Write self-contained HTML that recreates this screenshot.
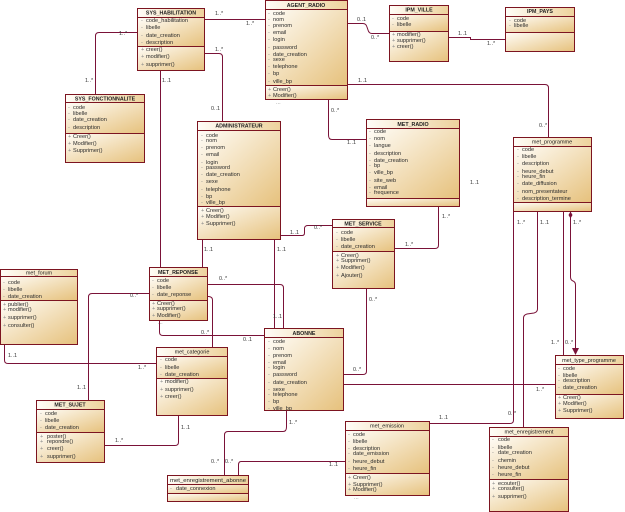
<!DOCTYPE html>
<html><head><meta charset="utf-8"><style>
html,body{margin:0;padding:0;background:#fff;width:625px;height:512px;overflow:hidden}
svg{display:block}
text{font-family:"Liberation Sans",sans-serif;font-size:5.6px;fill:#2b2b2b}
.h{font-size:5.5px;text-anchor:middle;fill:#1e1e1e}
.hb{font-size:5.3px;text-anchor:middle;fill:#1e1e1e;font-weight:bold}
.d{fill:#8a8a8a}
.l{font-size:5.4px;fill:#333}
.c{fill:none;stroke:#7a1238;stroke-width:1}
.bx{fill:none;stroke:#7c1420;stroke-width:1}
</style></head><body>
<svg width="625" height="512" viewBox="0 0 625 512" xmlns="http://www.w3.org/2000/svg">
<defs>
<linearGradient id="g" x1="0" y1="0" x2="1" y2="1"><stop offset="0" stop-color="#fffdf8"/><stop offset="1" stop-color="#e6c17c"/></linearGradient>
<linearGradient id="gt" x1="0" y1="0" x2="1" y2="0"><stop offset="0" stop-color="#fffdf8"/><stop offset="1" stop-color="#edd29c"/></linearGradient>
</defs>

<!-- connectors -->
<path class="c" d="M204,19.5H265"/>
<path class="c" d="M204,53.5H219Q222.5,53.5 222.5,57V121"/>
<path class="c" d="M137,32.5H99Q95.5,32.5 95.5,36V94"/>
<path class="c" d="M160.5,70V267"/>
<path class="c" d="M347,23.5H363Q366,23.5 367,27L368,30Q369,33.5 372,33.5H389"/>
<path class="c" d="M448,37.5H470.5V39.5H505"/>
<path class="c" d="M347,84.5H545Q548.5,84.5 548.5,88V137"/>
<path class="c" d="M328.5,99V135Q328.5,139.5 332,139.5H366"/>
<path class="c" d="M280,235.5H302Q304.5,235.5 304.5,233V228Q305,225.5 308,225.5H332"/>
<path class="c" d="M394,248.5H435Q438.5,248.5 438.5,245V206"/>
<path class="c" d="M202.5,239V267"/>
<path class="c" d="M274.5,239V328"/>
<path class="c" d="M207,284.5H280Q283.5,284.5 283.5,288V328"/>
<path class="c" d="M207,296.5H209Q212.5,297 212.5,300V347"/>
<path class="c" d="M159.5,321V332Q159.5,335.5 163,335.5H264"/>
<path class="c" d="M4.5,344V360Q4.5,363.5 8,363.5H156"/>
<path class="c" d="M149,293.5H92Q88.5,293.5 88.5,297V400"/>
<path class="c" d="M104,445.5H175Q178.5,445.5 178.5,442V415"/>
<path class="c" d="M343,374.5H363Q366.5,374.5 366.5,371V288"/>
<path class="c" d="M343,384.5H555"/>
<path class="c" d="M286.5,410V427Q286.5,431.5 283,431.5H228Q224.5,431.5 224.5,435V475"/>
<path class="c" d="M345,461.5H241Q238.5,461.5 238.5,465V475"/>
<path class="c" d="M429,423.5H510Q513.5,423.5 513.5,420V211"/>
<path class="c" d="M537.5,211V309Q537.5,312 534,313L527,314Q523.5,315 523.5,318V427"/>
<path class="c" d="M563.5,211V355"/>
<path class="c" d="M570.5,211V277Q570.5,280 573,281Q575.5,282 575.5,285V350"/>
<path d="M570.5,211.5L572.5,215L570.5,218.5L568.5,215Z" fill="#7a1238"/>
<path d="M572,348H579L575.5,355Z" fill="#7a1238"/>

<!-- connector labels -->
<text class="l" x="215" y="15">1..*</text>
<text class="l" x="246" y="25">1..*</text>
<text class="l" x="215" y="51">1..*</text>
<text class="l" x="211" y="110">0..1</text>
<text class="l" x="119" y="35">1..*</text>
<text class="l" x="85" y="82">1..*</text>
<text class="l" x="162" y="82">1..1</text>
<text class="l" x="357" y="21">0..1</text>
<text class="l" x="371" y="39">0..*</text>
<text class="l" x="458" y="35">1..1</text>
<text class="l" x="487" y="45">1..*</text>
<text class="l" x="358" y="82">1..1</text>
<text class="l" x="539" y="127">0..*</text>
<text class="l" x="331" y="112">0..*</text>
<text class="l" x="347" y="144">1..1</text>
<text class="l" x="290" y="234">1..1</text>
<text class="l" x="314" y="229">0..*</text>
<text class="l" x="405" y="246">1..*</text>
<text class="l" x="442" y="218">1..*</text>
<text class="l" x="470" y="184">1..1</text>
<text class="l" x="204" y="251">1..1</text>
<text class="l" x="277" y="251">1..1</text>
<text class="l" x="273" y="318">1..1</text>
<text class="l" x="219" y="280">0..*</text>
<text class="l" x="201" y="334">0..*</text>
<text class="l" x="243" y="341">0..1</text>
<text class="l" x="8" y="357">1..1</text>
<text class="l" x="138" y="369">1..*</text>
<text class="l" x="130" y="297">0..*</text>
<text class="l" x="77" y="389">1..1</text>
<text class="l" x="115" y="442">1..*</text>
<text class="l" x="181" y="429">1..1</text>
<text class="l" x="369" y="301">0..*</text>
<text class="l" x="353" y="371">0..*</text>
<text class="l" x="536" y="391">1..*</text>
<text class="l" x="289" y="424">1..*</text>
<text class="l" x="211" y="463">0..*</text>
<text class="l" x="225" y="463">0..*</text>
<text class="l" x="329" y="466">1..1</text>
<text class="l" x="439" y="419">1..1</text>
<text class="l" x="508" y="415">0..*</text>
<text class="l" x="517" y="224">1..*</text>
<text class="l" x="540" y="224">1..1</text>
<text class="l" x="573" y="224">1..*</text>
<text class="l" x="551" y="344">1..*</text>
<text class="l" x="565" y="344">0..*</text>

<!-- SYS_HABILITATION -->
<rect x="137.5" y="8.5" width="67" height="9" fill="url(#gt)"/>
<rect x="137.5" y="17.5" width="67" height="29" fill="url(#g)"/>
<rect x="137.5" y="46.5" width="67" height="24" fill="url(#g)"/>
<rect class="bx" x="137.5" y="8.5" width="67" height="62"/>
<path class="bx" d="M137.5,17.5H204.5M137.5,46.5H204.5"/>
<text class="hb" x="171" y="14.5">SYS_HABILITATION</text>
<text class="d" x="141" y="22">-</text><text x="146" y="22">code_habilitation</text>
<text class="d" x="141" y="29">-</text><text x="146" y="29">libelle</text>
<text class="d" x="141" y="37">-</text><text x="146" y="37">date_creation</text>
<text class="d" x="141" y="44">-</text><text x="146" y="44">description</text>
<text class="d" x="141" y="51">+</text><text x="146" y="51">creer()</text>
<text class="d" x="141" y="58">+</text><text x="146" y="58">modifier()</text>
<text class="d" x="141" y="66">+</text><text x="146" y="66">supprimer()</text>

<!-- SYS_FONCTIONNALITE -->
<rect x="65.5" y="94.5" width="79" height="8" fill="url(#gt)"/>
<rect x="65.5" y="102.5" width="79" height="31" fill="url(#g)"/>
<rect x="65.5" y="133.5" width="79" height="29" fill="url(#g)"/>
<rect class="bx" x="65.5" y="94.5" width="79" height="68"/>
<path class="bx" d="M65.5,102.5H144.5M65.5,133.5H144.5"/>
<text class="hb" x="105" y="100.5">SYS_FONCTIONNALITE</text>
<text class="d" x="68" y="109">-</text><text x="73" y="109">code</text>
<text class="d" x="68" y="115">-</text><text x="73" y="115">libelle</text>
<text class="d" x="68" y="121">-</text><text x="73" y="121">date_creation</text>
<text class="d" x="68" y="129">-</text><text x="73" y="129">description</text>
<text class="d" x="68" y="138">+</text><text x="73" y="138">Creer()</text>
<text class="d" x="68" y="145">+</text><text x="73" y="145">Modifier()</text>
<text class="d" x="68" y="152">+</text><text x="73" y="152">Supprimer()</text>

<!-- AGENT_RADIO -->
<rect x="265.5" y="0.5" width="82" height="9" fill="url(#gt)"/>
<rect x="265.5" y="9.5" width="82" height="76" fill="url(#g)"/>
<rect x="265.5" y="85.5" width="82" height="14" fill="url(#g)"/>
<rect class="bx" x="265.5" y="0.5" width="82" height="99"/>
<path class="bx" d="M265.5,9.5H347.5M265.5,85.5H347.5"/>
<text class="hb" x="306" y="7">AGENT_RADIO</text>
<text class="d" x="268" y="15">-</text><text x="273" y="15">code</text>
<text class="d" x="268" y="21">-</text><text x="273" y="21">nom</text>
<text class="d" x="268" y="27">-</text><text x="273" y="27">prenom</text>
<text class="d" x="268" y="34">-</text><text x="273" y="34">email</text>
<text class="d" x="268" y="41">-</text><text x="273" y="41">login</text>
<text class="d" x="268" y="49">-</text><text x="273" y="49">password</text>
<text class="d" x="268" y="56">-</text><text x="273" y="56">date_creation</text>
<text class="d" x="268" y="61">-</text><text x="273" y="61">sexe</text>
<text class="d" x="268" y="68">-</text><text x="273" y="68">telephone</text>
<text class="d" x="268" y="75">-</text><text x="273" y="75">bp</text>
<text class="d" x="268" y="83">-</text><text x="273" y="83">ville_bp</text>
<text class="d" x="268" y="91">+</text><text x="273" y="91">Creer()</text>
<text class="d" x="268" y="97">+</text><text x="273" y="97">Modifier()</text>
<text class="d" x="276" y="104">...</text>

<!-- IPM_VILLE -->
<rect x="389.5" y="5.5" width="59" height="9" fill="url(#gt)"/>
<rect x="389.5" y="14.5" width="59" height="17" fill="url(#g)"/>
<rect x="389.5" y="31.5" width="59" height="30" fill="url(#g)"/>
<rect class="bx" x="389.5" y="5.5" width="59" height="56"/>
<path class="bx" d="M389.5,14.5H448.5M389.5,31.5H448.5"/>
<text class="hb" x="419" y="11.5">IPM_VILLE</text>
<text class="d" x="392" y="20">-</text><text x="397" y="20">code</text>
<text class="d" x="392" y="26">-</text><text x="397" y="26">libelle</text>
<text class="d" x="392" y="36">+</text><text x="397" y="36">modifier()</text>
<text class="d" x="392" y="42">+</text><text x="397" y="42">supprimer()</text>
<text class="d" x="392" y="48">+</text><text x="397" y="48">creer()</text>

<!-- IPM_PAYS -->
<rect x="505.5" y="7.5" width="69" height="9" fill="url(#gt)"/>
<rect x="505.5" y="16.5" width="69" height="16" fill="url(#g)"/>
<rect x="505.5" y="32.5" width="69" height="19" fill="url(#g)"/>
<rect class="bx" x="505.5" y="7.5" width="69" height="44"/>
<path class="bx" d="M505.5,16.5H574.5M505.5,32.5H574.5"/>
<text class="hb" x="540" y="13">IPM_PAYS</text>
<text class="d" x="509" y="22">-</text><text x="514" y="22">code</text>
<text class="d" x="509" y="27">-</text><text x="514" y="27">libelle</text>

<!-- ADMINISTRATEUR -->
<rect x="197.5" y="121.5" width="83" height="9" fill="url(#gt)"/>
<rect x="197.5" y="130.5" width="83" height="76" fill="url(#g)"/>
<rect x="197.5" y="206.5" width="83" height="33" fill="url(#g)"/>
<rect class="bx" x="197.5" y="121.5" width="83" height="118"/>
<path class="bx" d="M197.5,130.5H280.5M197.5,206.5H280.5"/>
<text class="hb" x="239" y="127.5">ADMINISTRATEUR</text>
<text class="d" x="201" y="137">-</text><text x="206" y="137">code</text>
<text class="d" x="201" y="142">-</text><text x="206" y="142">nom</text>
<text class="d" x="201" y="149">-</text><text x="206" y="149">prenom</text>
<text class="d" x="201" y="156">-</text><text x="206" y="156">email</text>
<text class="d" x="201" y="164">-</text><text x="206" y="164">login</text>
<text class="d" x="201" y="169">-</text><text x="206" y="169">password</text>
<text class="d" x="201" y="176">-</text><text x="206" y="176">date_creation</text>
<text class="d" x="201" y="183">-</text><text x="206" y="183">sexe</text>
<text class="d" x="201" y="191">-</text><text x="206" y="191">telephone</text>
<text class="d" x="201" y="198">-</text><text x="206" y="198">bp</text>
<text class="d" x="201" y="204">-</text><text x="206" y="204">ville_bp</text>
<text class="d" x="201" y="212">+</text><text x="206" y="212">Creer()</text>
<text class="d" x="201" y="218">+</text><text x="206" y="218">Modifier()</text>
<text class="d" x="201" y="225">+</text><text x="206" y="225">Supprimer()</text>

<!-- MET_RADIO -->
<rect x="366.5" y="119.5" width="93" height="9" fill="url(#gt)"/>
<rect x="366.5" y="128.5" width="93" height="70" fill="url(#g)"/>
<rect x="366.5" y="198.5" width="93" height="8" fill="url(#g)"/>
<rect class="bx" x="366.5" y="119.5" width="93" height="87"/>
<path class="bx" d="M366.5,128.5H459.5M366.5,198.5H459.5"/>
<text class="hb" x="413" y="126">MET_RADIO</text>
<text class="d" x="369" y="133">-</text><text x="374" y="133">code</text>
<text class="d" x="369" y="140">-</text><text x="374" y="140">nom</text>
<text class="d" x="369" y="147">-</text><text x="374" y="147">langue</text>
<text class="d" x="369" y="155">-</text><text x="374" y="155">description</text>
<text class="d" x="369" y="162">-</text><text x="374" y="162">date_creation</text>
<text class="d" x="369" y="167">-</text><text x="374" y="167">bp</text>
<text class="d" x="369" y="174">-</text><text x="374" y="174">ville_bp</text>
<text class="d" x="369" y="182">-</text><text x="374" y="182">site_web</text>
<text class="d" x="369" y="189">-</text><text x="374" y="189">email</text>
<text class="d" x="369" y="194">-</text><text x="374" y="194">frequence</text>

<!-- MET_SERVICE -->
<rect x="332.5" y="219.5" width="62" height="8" fill="url(#gt)"/>
<rect x="332.5" y="227.5" width="62" height="24" fill="url(#g)"/>
<rect x="332.5" y="251.5" width="62" height="37" fill="url(#g)"/>
<rect class="bx" x="332.5" y="219.5" width="62" height="69"/>
<path class="bx" d="M332.5,227.5H394.5M332.5,251.5H394.5"/>
<text class="hb" x="363" y="225.5">MET_SERVICE</text>
<text class="d" x="336" y="234">-</text><text x="341" y="234">code</text>
<text class="d" x="336" y="241">-</text><text x="341" y="241">libelle</text>
<text class="d" x="336" y="248">-</text><text x="341" y="248">date_creation</text>
<text class="d" x="336" y="257">+</text><text x="341" y="257">Creer()</text>
<text class="d" x="336" y="262">+</text><text x="341" y="262">Supprimer()</text>
<text class="d" x="336" y="269">+</text><text x="341" y="269">Modifier()</text>
<text class="d" x="336" y="277">+</text><text x="341" y="277">Ajouter()</text>

<!-- met_programme -->
<rect x="513.5" y="137.5" width="78" height="9" fill="url(#gt)"/>
<rect x="513.5" y="146.5" width="78" height="56" fill="url(#g)"/>
<rect x="513.5" y="202.5" width="78" height="9" fill="url(#g)"/>
<rect class="bx" x="513.5" y="137.5" width="78" height="74"/>
<path class="bx" d="M513.5,146.5H591.5M513.5,202.5H591.5"/>
<text class="h" x="552" y="143.5">met_programme</text>
<text class="d" x="517" y="151">-</text><text x="522" y="151">code</text>
<text class="d" x="517" y="158">-</text><text x="522" y="158">libelle</text>
<text class="d" x="517" y="165">-</text><text x="522" y="165">description</text>
<text class="d" x="517" y="173">-</text><text x="522" y="173">heure_debut</text>
<text class="d" x="517" y="178">-</text><text x="522" y="178">heure_fin</text>
<text class="d" x="517" y="185">-</text><text x="522" y="185">date_diffusion</text>
<text class="d" x="517" y="193">-</text><text x="522" y="193">nom_presentateur</text>
<text class="d" x="517" y="200">-</text><text x="522" y="200">description_termine</text>

<!-- met_forum -->
<rect x="0.5" y="269.5" width="77" height="7" fill="url(#gt)"/>
<rect x="0.5" y="276.5" width="77" height="24" fill="url(#g)"/>
<rect x="0.5" y="300.5" width="77" height="44" fill="url(#g)"/>
<rect class="bx" x="0.5" y="269.5" width="77" height="75"/>
<path class="bx" d="M0.5,276.5H77.5M0.5,300.5H77.5"/>
<text class="h" x="39" y="274.5">met_forum</text>
<text class="d" x="3" y="284">-</text><text x="8" y="284">code</text>
<text class="d" x="3" y="291">-</text><text x="8" y="291">libelle</text>
<text class="d" x="3" y="298">-</text><text x="8" y="298">date_creation</text>
<text class="d" x="3" y="306">+</text><text x="8" y="306">publier()</text>
<text class="d" x="3" y="311">+</text><text x="8" y="311">modifier()</text>
<text class="d" x="3" y="319">+</text><text x="8" y="319">supprimer()</text>
<text class="d" x="3" y="327">+</text><text x="8" y="327">consulter()</text>

<!-- MET_REPONSE -->
<rect x="149.5" y="267.5" width="58" height="9" fill="url(#gt)"/>
<rect x="149.5" y="276.5" width="58" height="24" fill="url(#g)"/>
<rect x="149.5" y="300.5" width="58" height="20" fill="url(#g)"/>
<rect class="bx" x="149.5" y="267.5" width="58" height="53"/>
<path class="bx" d="M149.5,276.5H207.5M149.5,300.5H207.5"/>
<text class="hb" x="178" y="274">MET_REPONSE</text>
<text class="d" x="152" y="282">-</text><text x="157" y="282">code</text>
<text class="d" x="152" y="289">-</text><text x="157" y="289">libelle</text>
<text class="d" x="152" y="296">-</text><text x="157" y="296">date_reponse</text>
<text class="d" x="152" y="305">+</text><text x="157" y="305">Creer()</text>
<text class="d" x="152" y="310">+</text><text x="157" y="310">supprimer()</text>
<text class="d" x="152" y="317">+</text><text x="157" y="317">Modifier()</text>
<text class="d" x="158" y="324">...</text>

<!-- met_categorie -->
<rect x="156.5" y="347.5" width="71" height="9" fill="url(#gt)"/>
<rect x="156.5" y="356.5" width="71" height="22" fill="url(#g)"/>
<rect x="156.5" y="378.5" width="71" height="37" fill="url(#g)"/>
<rect class="bx" x="156.5" y="347.5" width="71" height="68"/>
<path class="bx" d="M156.5,356.5H227.5M156.5,378.5H227.5"/>
<text class="h" x="192" y="353.5">met_categorie</text>
<text class="d" x="160" y="361">-</text><text x="165" y="361">code</text>
<text class="d" x="160" y="369">-</text><text x="165" y="369">libelle</text>
<text class="d" x="160" y="376">-</text><text x="165" y="376">date_creation</text>
<text class="d" x="160" y="383">+</text><text x="165" y="383">modifier()</text>
<text class="d" x="160" y="391">+</text><text x="165" y="391">supprimer()</text>
<text class="d" x="160" y="398">+</text><text x="165" y="398">creer()</text>

<!-- MET_SUJET -->
<rect x="36.5" y="400.5" width="68" height="9" fill="url(#gt)"/>
<rect x="36.5" y="409.5" width="68" height="23" fill="url(#g)"/>
<rect x="36.5" y="432.5" width="68" height="30" fill="url(#g)"/>
<rect class="bx" x="36.5" y="400.5" width="68" height="62"/>
<path class="bx" d="M36.5,409.5H104.5M36.5,432.5H104.5"/>
<text class="hb" x="70" y="406.5">MET_SUJET</text>
<text class="d" x="40" y="415">-</text><text x="45" y="415">code</text>
<text class="d" x="40" y="422">-</text><text x="45" y="422">libelle</text>
<text class="d" x="40" y="429">-</text><text x="45" y="429">date_creation</text>
<text class="d" x="40" y="438">+</text><text x="47" y="438">poster()</text>
<text class="d" x="40" y="443">+</text><text x="47" y="443">repondre()</text>
<text class="d" x="40" y="450">+</text><text x="47" y="450">creer()</text>
<text class="d" x="40" y="458">+</text><text x="47" y="458">supprimer()</text>

<!-- ABONNE -->
<rect x="264.5" y="328.5" width="79" height="9" fill="url(#gt)"/>
<rect x="264.5" y="337.5" width="79" height="73" fill="url(#g)"/>
<rect class="bx" x="264.5" y="328.5" width="79" height="82"/>
<path class="bx" d="M264.5,337.5H343.5"/>
<text class="hb" x="304" y="335">ABONNE</text>
<text class="d" x="268" y="343">-</text><text x="273" y="343">code</text>
<text class="d" x="268" y="350">-</text><text x="273" y="350">nom</text>
<text class="d" x="268" y="357">-</text><text x="273" y="357">prenom</text>
<text class="d" x="268" y="364">-</text><text x="273" y="364">email</text>
<text class="d" x="268" y="369">-</text><text x="273" y="369">login</text>
<text class="d" x="268" y="376">-</text><text x="273" y="376">password</text>
<text class="d" x="268" y="384">-</text><text x="273" y="384">date_creation</text>
<text class="d" x="268" y="391">-</text><text x="273" y="391">sexe</text>
<text class="d" x="268" y="396">-</text><text x="273" y="396">telephone</text>
<text class="d" x="268" y="403">-</text><text x="273" y="403">bp</text>
<text class="d" x="268" y="410">-</text><text x="273" y="410">ville_bp</text>

<!-- met_type_programme -->
<rect x="555.5" y="355.5" width="68" height="9" fill="url(#gt)"/>
<rect x="555.5" y="364.5" width="68" height="30" fill="url(#g)"/>
<rect x="555.5" y="394.5" width="68" height="24" fill="url(#g)"/>
<rect class="bx" x="555.5" y="355.5" width="68" height="63"/>
<path class="bx" d="M555.5,364.5H623.5M555.5,394.5H623.5"/>
<text class="h" x="589" y="362">met_type_programme</text>
<text class="d" x="558" y="370">-</text><text x="563" y="370">code</text>
<text class="d" x="558" y="377">-</text><text x="563" y="377">libelle</text>
<text class="d" x="558" y="382">-</text><text x="563" y="382">description</text>
<text class="d" x="558" y="389">-</text><text x="563" y="389">date_creation</text>
<text class="d" x="558" y="399">+</text><text x="563" y="399">Creer()</text>
<text class="d" x="558" y="405">+</text><text x="563" y="405">Modifier()</text>
<text class="d" x="558" y="412">+</text><text x="563" y="412">Supprimer()</text>

<!-- met_emission -->
<rect x="345.5" y="421.5" width="84" height="9" fill="url(#gt)"/>
<rect x="345.5" y="430.5" width="84" height="43" fill="url(#g)"/>
<rect x="345.5" y="473.5" width="84" height="22" fill="url(#g)"/>
<rect class="bx" x="345.5" y="421.5" width="84" height="74"/>
<path class="bx" d="M345.5,430.5H429.5M345.5,473.5H429.5"/>
<text class="h" x="387" y="427.5">met_emission</text>
<text class="d" x="348" y="436">-</text><text x="353" y="436">code</text>
<text class="d" x="348" y="443">-</text><text x="353" y="443">libelle</text>
<text class="d" x="348" y="450">-</text><text x="353" y="450">description</text>
<text class="d" x="348" y="455">-</text><text x="353" y="455">date_emission</text>
<text class="d" x="348" y="463">-</text><text x="353" y="463">heure_debut</text>
<text class="d" x="348" y="470">-</text><text x="353" y="470">heure_fin</text>
<text class="d" x="348" y="479">+</text><text x="353" y="479">Creer()</text>
<text class="d" x="348" y="486">+</text><text x="353" y="486">Supprimer()</text>
<text class="d" x="348" y="491">+</text><text x="353" y="491">Modifier()</text>
<text class="d" x="354" y="499">...</text>

<!-- met_enregistrement -->
<rect x="489.5" y="427.5" width="79" height="9" fill="url(#gt)"/>
<rect x="489.5" y="436.5" width="79" height="43" fill="url(#g)"/>
<rect x="489.5" y="479.5" width="79" height="32" fill="url(#g)"/>
<rect class="bx" x="489.5" y="427.5" width="79" height="84"/>
<path class="bx" d="M489.5,436.5H568.5M489.5,479.5H568.5"/>
<text class="h" x="529" y="433.5">met_enregistrement</text>
<text class="d" x="492" y="441">-</text><text x="498" y="441">code</text>
<text class="d" x="492" y="449">-</text><text x="498" y="449">libelle</text>
<text class="d" x="492" y="454">-</text><text x="498" y="454">date_creation</text>
<text class="d" x="492" y="462">-</text><text x="498" y="462">chemin</text>
<text class="d" x="492" y="469">-</text><text x="498" y="469">heure_debut</text>
<text class="d" x="492" y="476">-</text><text x="498" y="476">heure_fin</text>
<text class="d" x="492" y="485">+</text><text x="498" y="485">ecouter()</text>
<text class="d" x="492" y="490">+</text><text x="498" y="490">consulter()</text>
<text class="d" x="492" y="498">+</text><text x="498" y="498">supprimer()</text>

<!-- met_enregistrement_abonne -->
<rect x="167.5" y="475.5" width="81" height="9" fill="url(#gt)"/>
<rect x="167.5" y="484.5" width="81" height="9" fill="url(#g)"/>
<rect x="167.5" y="493.5" width="81" height="8" fill="url(#g)"/>
<rect class="bx" x="167.5" y="475.5" width="81" height="26"/>
<path class="bx" d="M167.5,484.5H248.5M167.5,493.5H248.5"/>
<text class="h" x="208" y="482" textLength="76" lengthAdjust="spacingAndGlyphs">met_enregistrement_abonne</text>
<text class="d" x="170" y="490">-</text><text x="176" y="490">date_connexion</text>
</svg>
</body></html>
